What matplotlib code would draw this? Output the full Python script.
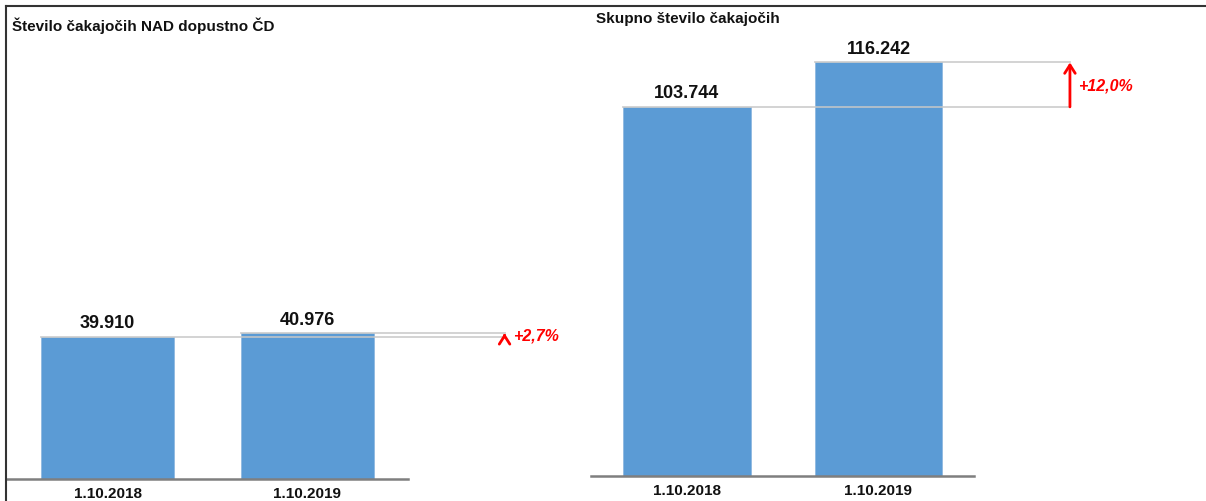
import matplotlib
matplotlib.use('Agg')
import matplotlib.pyplot as plt
from matplotlib.lines import Line2D

plt.rcParams['font.family'] = ['Liberation Sans', 'DejaVu Sans']

# data
dates = ['1.10.2018', '1.10.2019']
nad_dopustno = [39910, 40976]
skupno = [103744, 116242]
titles = ['Število čakajočih NAD dopustno ČD', 'Skupno število čakajočih']
changes = ['+2,7%', '+12,0%']

bar_color = '#5b9bd5'
W, H = 1206, 502
fig = plt.figure(figsize=(W / 100, H / 100), dpi=100)

# frame around the picture (top and left only)
fig.add_artist(Line2D([6 / W, 1], [1 - 7 / H] * 2, color='#333333', lw=1.5))
fig.add_artist(Line2D([6 / W] * 2, [0, 1 - 7 / H], color='#333333', lw=1.5))


def panel(left, right, base, top, xlim, vals, title, title_xy, change, line_end, fs_title):
    ax = fig.add_axes([left / W, (H - base) / H, (right - left) / W, (base - top) / H])
    scale = 0.003558  # px per unit, same for both panels
    ax.set_ylim(0, (base - top) / scale)
    ax.set_xlim(*xlim)
    x = [0, 1]
    ax.bar(x, vals, width=0.667, color=bar_color, edgecolor='#8fb8e0', lw=0.6, zorder=2)
    for xi, v in zip(x, vals):
        ax.annotate('{:,}'.format(v).replace(',', '.'), (xi, v), xytext=(0, 4),
                    textcoords='offset points', ha='center', va='bottom',
                    fontsize=13, fontweight='bold', color='#111111')
    # reference lines from the bar tops
    for xi, v in zip(x, vals):
        ax.plot([xi - 0.333, line_end], [v, v], color='#c8c8c8', lw=1.3, zorder=3,
                alpha=0.85, clip_on=False)
    ax.annotate('', xy=(line_end, vals[1]), xytext=(line_end, vals[0]),
                arrowprops=dict(arrowstyle='->,head_length=0.6,head_width=0.38',
                                color='red', lw=2, shrinkA=0, shrinkB=0),
                annotation_clip=False)
    ax.text(line_end + 0.04, (vals[0] + vals[1]) / 2, change, color='red',
            fontsize=11.5, fontweight='bold', style='italic', ha='left', va='center')
    ax.set_xticks(x)
    ax.set_xticklabels(dates, fontsize=11, fontweight='bold', color='#111111')
    ax.tick_params(axis='x', length=0, pad=5)
    ax.set_yticks([])
    for s in ['top', 'right', 'left']:
        ax.spines[s].set_visible(False)
    ax.spines['bottom'].set_color('#7f7f7f')
    ax.spines['bottom'].set_linewidth(1.8)
    ax.patch.set_alpha(0)
    fig.text(title_xy[0] / W, 1 - title_xy[1] / H, title, fontsize=fs_title,
             fontweight='bold', va='center', ha='left', color='#111111')
    return ax


panel(7, 408, 480, 7, (-0.504, 1.506), nad_dopustno, titles[0], (12, 26),
      changes[0], 1.99, 11)
panel(591, 974, 477, 7, (-0.501, 1.499), skupno, titles[1], (596, 19),
      changes[1], 2.0, 11)

fig.savefig('out.png', dpi=100)
